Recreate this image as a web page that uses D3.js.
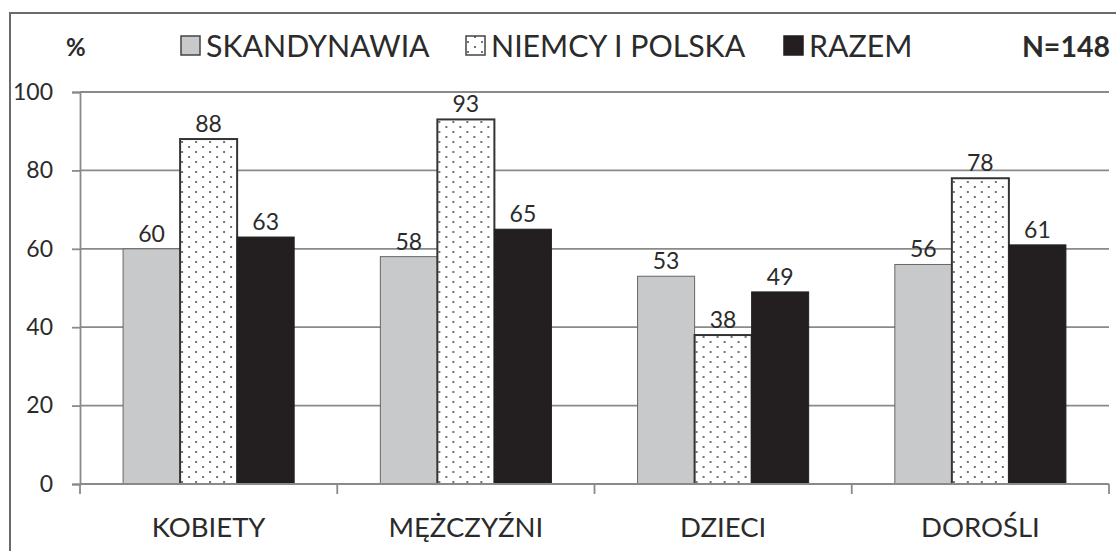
<!DOCTYPE html>
<html>
<head>
<meta charset="utf-8">
<script src="https://cdn.jsdelivr.net/npm/d3@7.9.0/dist/d3.min.js"></script>
<style>
  body { margin: 0; background: #fff; }
  svg text { font-family: Lato, "Open Sans", sans-serif; fill: #2b2b2b; }
</style>
</head>
<body>
<svg id="chart" width="1116" height="551"></svg>
<script>
const categories = ["KOBIETY", "MĘŻCZYŹNI", "DZIECI", "DOROŚLI"];
const seriesNames = ["SKANDYNAWIA", "NIEMCY I POLSKA", "RAZEM"];
const skandynawia = [60, 58, 53, 56];
const niemcyPolska = [88, 93, 38, 78];
const razem = [63, 65, 49, 61];
const yTicks = [0, 20, 40, 60, 80, 100];

const seriesValues = [skandynawia, niemcyPolska, razem];
const fills = ["#c8c9cb", "url(#dots)", "#231f20"];
const strokes = ["#666", "#333", "#231f20"];

const svg = d3.select("#chart");

// dotted pattern
const defs = svg.append("defs");
const pat = defs.append("pattern")
  .attr("id", "dots").attr("patternUnits", "userSpaceOnUse")
  .attr("width", 14).attr("height", 10);
pat.append("rect").attr("width", 14).attr("height", 10).attr("fill", "#fff");
pat.append("circle").attr("cx", 3).attr("cy", 2).attr("r", 1).attr("fill", "#444");
pat.append("circle").attr("cx", 10).attr("cy", 7).attr("r", 1).attr("fill", "#444");

// outer frame
svg.append("rect")
  .attr("x", 10).attr("y", 13).attr("width", 1200).attr("height", 600)
  .attr("fill", "none").attr("stroke", "#6b6b6b").attr("stroke-width", 2);

const plotL = 80, plotR = 1109, plotT = 92, plotB = 484;

const y = d3.scaleLinear().domain([0, 100]).range([plotB, plotT]);
const x0 = d3.scaleBand().domain(categories).range([plotL, plotR])
  .paddingInner(0.335).paddingOuter(0.1675);
const x1 = d3.scaleBand().domain(seriesNames).range([0, x0.bandwidth()]);
const step = x0.step();

// gridlines
svg.append("g").selectAll("line").data(yTicks.filter(d => d > 0)).join("line")
  .attr("x1", plotL).attr("x2", plotR)
  .attr("y1", d => y(d)).attr("y2", d => y(d))
  .attr("stroke", "#8a8a8a").attr("stroke-width", 1.8);

// y axis
const yAxis = svg.append("g").attr("transform", `translate(${plotL},0)`)
  .call(d3.axisLeft(y).tickValues(yTicks).tickSize(8).tickPadding(8));
yAxis.select(".domain").attr("stroke", "#8a8a8a").attr("stroke-width", 1.8);
yAxis.selectAll(".tick line").attr("stroke", "#8a8a8a").attr("stroke-width", 1.8);
yAxis.selectAll(".tick text").attr("font-size", 23).attr("fill", "#2b2b2b")
  .attr("font-family", "Lato, sans-serif").attr("x", -27);

// bars
const groups = svg.append("g").selectAll("g").data(categories).join("g")
  .attr("transform", d => `translate(${x0(d)},0)`);

groups.selectAll("rect")
  .data((c, ci) => seriesNames.map((s, si) => ({ s, si, v: seriesValues[si][ci] })))
  .join("rect")
  .attr("x", d => x1(d.s))
  .attr("y", d => y(d.v))
  .attr("width", x1.bandwidth())
  .attr("height", d => plotB - y(d.v))
  .attr("fill", d => fills[d.si])
  .attr("stroke", d => strokes[d.si])
  .attr("stroke-width", d => d.si === 1 ? 2 : 1);

groups.selectAll("text.val")
  .data((c, ci) => seriesNames.map((s, si) => ({ s, si, v: seriesValues[si][ci] })))
  .join("text")
  .attr("class", "val")
  .attr("x", d => x1(d.s) + x1.bandwidth() / 2)
  .attr("y", d => y(d.v) - 7)
  .attr("text-anchor", "middle")
  .attr("font-size", 23)
  .text(d => d.v);

// x axis
svg.append("line").attr("x1", plotL).attr("x2", plotR)
  .attr("y1", plotB).attr("y2", plotB)
  .attr("stroke", "#8a8a8a").attr("stroke-width", 1.8);
const bounds = d3.range(categories.length + 1).map(i => plotL + i * step);
svg.append("g").selectAll("line").data(bounds).join("line")
  .attr("x1", d => d).attr("x2", d => d)
  .attr("y1", plotB).attr("y2", plotB + 10)
  .attr("stroke", "#8a8a8a").attr("stroke-width", 1.8);

svg.append("g").selectAll("text").data(categories).join("text")
  .attr("x", d => x0(d) + x0.bandwidth() / 2)
  .attr("y", 537)
  .attr("text-anchor", "middle")
  .attr("font-size", 27.5)
  .text(d => d);

// header
svg.append("text").attr("x", 66).attr("y", 56).attr("font-size", 24)
  .attr("font-weight", "bold").text("%");

const legendX = [180, 465, 783];
const legend = svg.append("g").selectAll("g").data(seriesNames).join("g")
  .attr("transform", (d, i) => `translate(${legendX[i]},0)`);
legend.append("rect")
  .attr("x", 1).attr("y", 36).attr("width", 19).attr("height", 19)
  .attr("fill", (d, i) => fills[i])
  .attr("stroke", (d, i) => i === 2 ? "#231f20" : "#444")
  .attr("stroke-width", 1.5);
legend.append("text")
  .attr("x", 26).attr("y", 57)
  .attr("font-size", 30.3)
  .text(d => d);

svg.append("text").attr("x", 1110).attr("y", 57).attr("text-anchor", "end")
  .attr("font-size", 28.5).attr("font-weight", "bold").text("N=148");
</script>
</body>
</html>
